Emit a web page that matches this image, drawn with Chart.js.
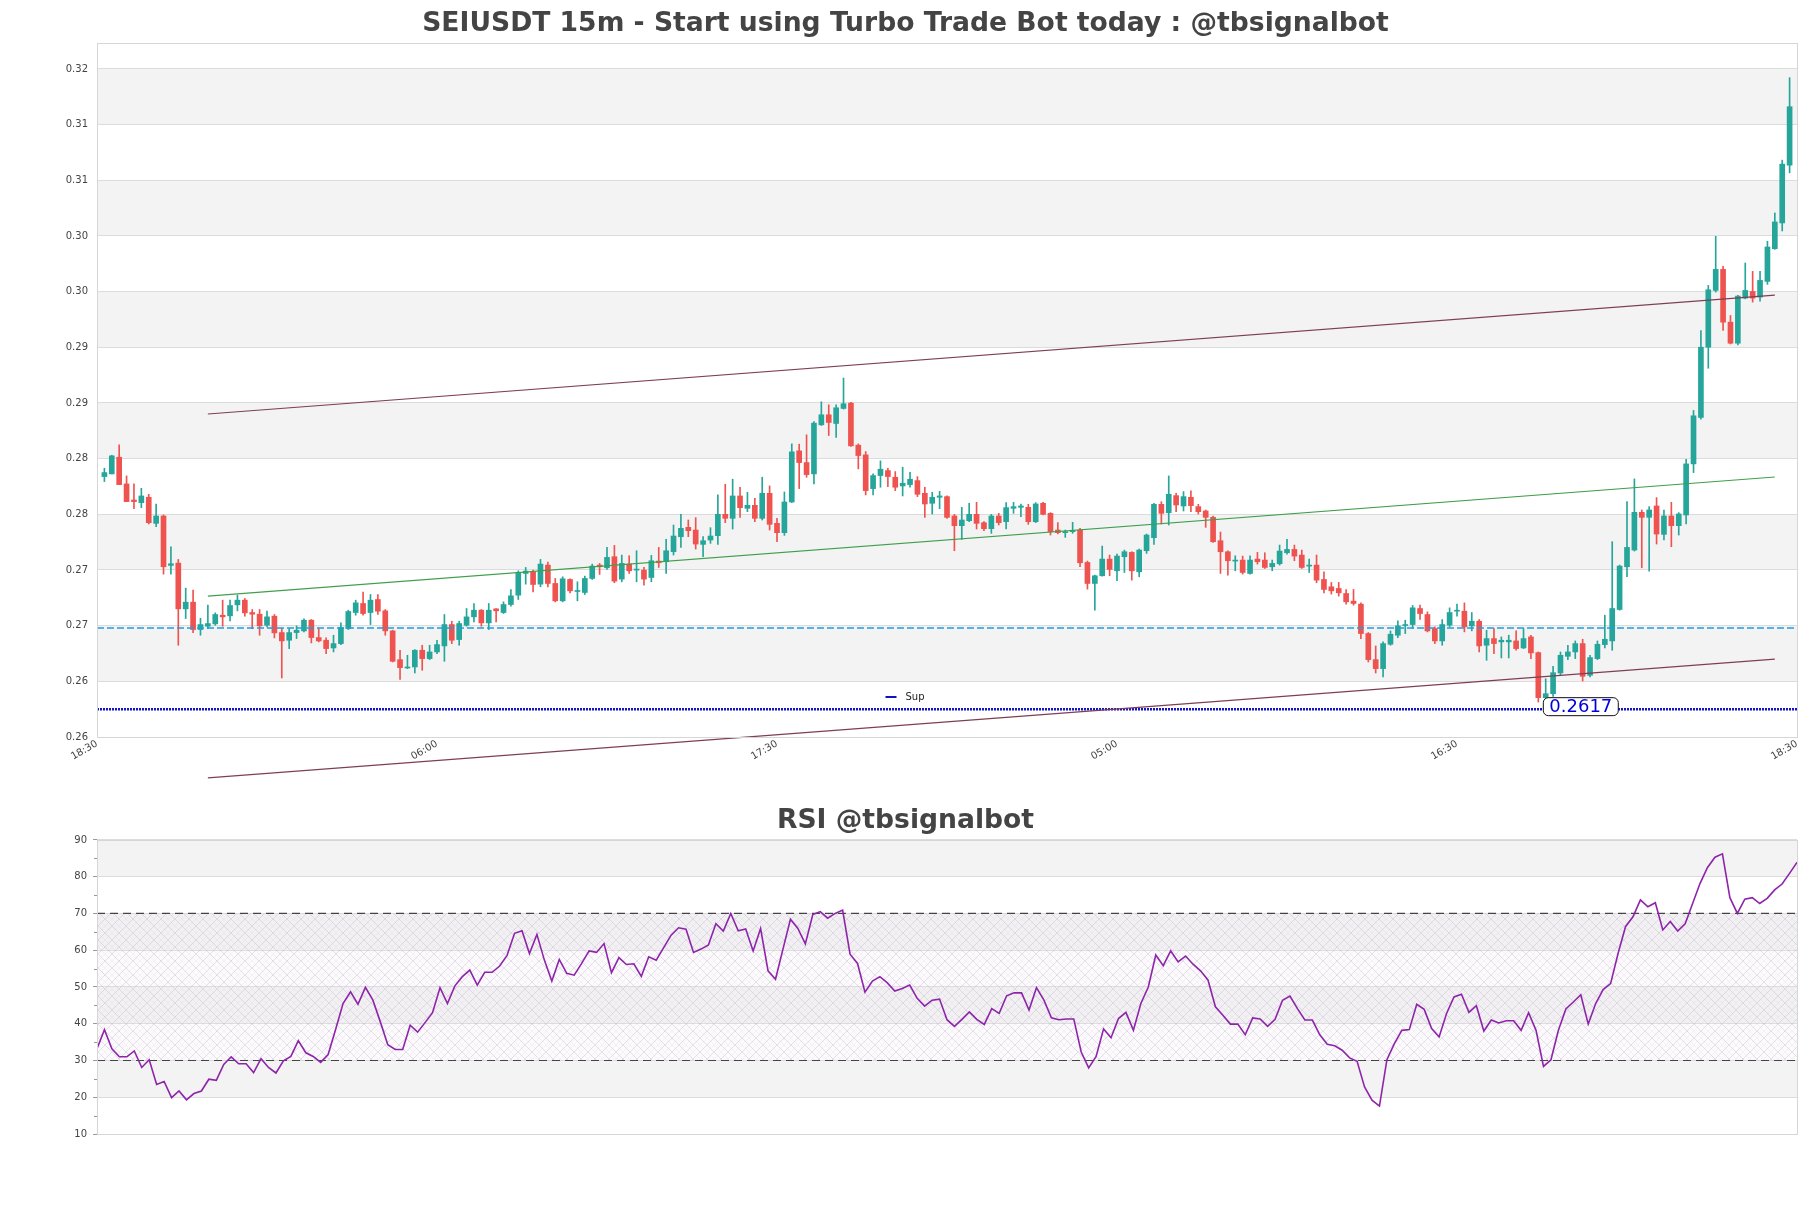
<!DOCTYPE html>
<html><head><meta charset="utf-8">
<script src="https://cdn.jsdelivr.net/npm/chart.js@4.4.1/dist/chart.umd.min.js"></script>
<style>
html,body{margin:0;padding:0;background:#fff;}
#wrap{position:relative;width:1811px;height:1208px;overflow:hidden;}
canvas{position:absolute;left:0;}
</style></head><body>
<div id="wrap">
<canvas id="price" width="1811" height="800" style="top:0;width:1811px;height:800px"></canvas>
<canvas id="rsi" width="1811" height="408" style="top:800px;width:1811px;height:408px"></canvas>
</div>
<script>
// ---------------- DATA ----------------
const priceTitle = 'SEIUSDT 15m - Start using Turbo Trade Bot today : @tbsignalbot';
const rsiTitle = 'RSI @tbsignalbot';

const openP = [0.28259,0.28283,0.28433,0.28193,0.28049,0.28025,0.28073,0.27839,0.27905,0.27461,0.27482,0.27071,0.27131,0.26885,0.26915,0.26936,0.27014,0.27008,0.27107,0.27149,0.27038,0.27023,0.26924,0.27005,0.26858,0.26789,0.26858,0.26873,0.26969,0.26813,0.26789,0.26720,0.26759,0.26894,0.27038,0.27119,0.27038,0.27155,0.27053,0.26873,0.26615,0.26540,0.26549,0.26699,0.26624,0.26684,0.26738,0.26930,0.26795,0.26924,0.26999,0.27059,0.26945,0.27071,0.27038,0.27110,0.27194,0.27389,0.27404,0.27293,0.27464,0.27299,0.27143,0.27335,0.27227,0.27218,0.27344,0.27464,0.27440,0.27539,0.27338,0.27473,0.27419,0.27419,0.27353,0.27500,0.27494,0.27584,0.27719,0.27803,0.27779,0.27650,0.27689,0.27728,0.27920,0.27884,0.28085,0.27974,0.28001,0.27884,0.28109,0.27839,0.27755,0.28031,0.28490,0.28385,0.28283,0.28724,0.28814,0.28736,0.28871,0.28919,0.28541,0.28454,0.28151,0.28268,0.28313,0.28253,0.28175,0.28187,0.28223,0.28109,0.28019,0.28073,0.28079,0.27905,0.27818,0.27863,0.27920,0.27845,0.27791,0.27905,0.27854,0.27974,0.27983,0.27983,0.27854,0.28019,0.27929,0.27779,0.27755,0.27764,0.27779,0.27488,0.27299,0.27368,0.27518,0.27413,0.27539,0.27578,0.27404,0.27593,0.27710,0.28010,0.27935,0.28088,0.27995,0.28073,0.27989,0.27950,0.27893,0.27683,0.27584,0.27500,0.27509,0.27389,0.27518,0.27509,0.27449,0.27476,0.27575,0.27605,0.27554,0.27455,0.27464,0.27335,0.27269,0.27254,0.27209,0.27140,0.27113,0.26849,0.26615,0.26534,0.26753,0.26834,0.26921,0.26930,0.27074,0.27020,0.26894,0.26783,0.26924,0.27050,0.27050,0.26918,0.26960,0.26744,0.26804,0.26774,0.26774,0.26783,0.26720,0.26819,0.26678,0.26273,0.26309,0.26495,0.26645,0.26684,0.26759,0.26474,0.26624,0.26750,0.26783,0.27065,0.27449,0.27599,0.27938,0.27893,0.27995,0.27740,0.27905,0.27818,0.27914,0.28373,0.28790,0.29421,0.29931,0.30120,0.29646,0.29457,0.29862,0.29922,0.29871,0.30012,0.30306,0.30537,0.31056];
const highP = [0.28334,0.28451,0.28544,0.28265,0.28193,0.28154,0.28100,0.28013,0.27914,0.27629,0.27515,0.27257,0.27239,0.26987,0.27104,0.27035,0.27149,0.27149,0.27194,0.27164,0.27065,0.27065,0.27050,0.27020,0.26894,0.26894,0.26918,0.26981,0.26975,0.26894,0.26810,0.26834,0.26945,0.27059,0.27149,0.27221,0.27200,0.27200,0.27065,0.26879,0.26699,0.26654,0.26705,0.26744,0.26744,0.26789,0.27020,0.26960,0.26960,0.27074,0.27119,0.27065,0.27119,0.27074,0.27134,0.27245,0.27413,0.27443,0.27419,0.27515,0.27491,0.27344,0.27359,0.27341,0.27314,0.27365,0.27473,0.27479,0.27623,0.27641,0.27554,0.27548,0.27593,0.27443,0.27551,0.27623,0.27695,0.27824,0.27920,0.27869,0.27890,0.27719,0.27800,0.28094,0.28190,0.28235,0.28163,0.28118,0.28064,0.28253,0.28175,0.27884,0.28121,0.28553,0.28550,0.28634,0.28754,0.28931,0.28904,0.28904,0.29144,0.28925,0.28553,0.28484,0.28283,0.28400,0.28334,0.28304,0.28343,0.28298,0.28259,0.28163,0.28118,0.28127,0.28085,0.27920,0.27983,0.28019,0.28028,0.27854,0.27920,0.27929,0.28025,0.28028,0.28013,0.28010,0.28025,0.28028,0.27935,0.27845,0.27779,0.27848,0.27794,0.27500,0.27374,0.27635,0.27554,0.27563,0.27599,0.27584,0.27608,0.27743,0.28019,0.28034,0.28265,0.28109,0.28124,0.28130,0.28010,0.27959,0.27905,0.27761,0.27593,0.27548,0.27545,0.27548,0.27578,0.27575,0.27509,0.27644,0.27695,0.27644,0.27599,0.27518,0.27554,0.27404,0.27308,0.27308,0.27245,0.27245,0.27125,0.26858,0.26738,0.26774,0.26873,0.26963,0.26969,0.27101,0.27104,0.27044,0.26909,0.26975,0.27080,0.27113,0.27125,0.27038,0.26975,0.26879,0.26894,0.26819,0.26834,0.26873,0.26894,0.26834,0.26684,0.26444,0.26555,0.26684,0.26744,0.26783,0.26798,0.26654,0.26783,0.27014,0.27674,0.27464,0.28034,0.28238,0.27959,0.27989,0.28070,0.27959,0.28028,0.27935,0.28415,0.28853,0.29571,0.29976,0.30417,0.30147,0.29706,0.29886,0.30177,0.30102,0.30102,0.30372,0.30627,0.31101,0.31842];
const lowP = [0.28214,0.28283,0.28187,0.28034,0.27971,0.27980,0.27833,0.27809,0.27383,0.27383,0.26744,0.26984,0.26858,0.26834,0.26894,0.26924,0.26915,0.26963,0.27053,0.27005,0.26894,0.26834,0.26909,0.26810,0.26450,0.26714,0.26804,0.26864,0.26765,0.26774,0.26669,0.26684,0.26750,0.26885,0.27014,0.27014,0.26930,0.27020,0.26834,0.26594,0.26438,0.26534,0.26495,0.26519,0.26615,0.26669,0.26600,0.26759,0.26744,0.26915,0.26954,0.26915,0.26885,0.26954,0.27029,0.27095,0.27155,0.27293,0.27224,0.27269,0.27269,0.27134,0.27134,0.27215,0.27143,0.27200,0.27335,0.27380,0.27425,0.27305,0.27314,0.27389,0.27314,0.27284,0.27314,0.27443,0.27389,0.27554,0.27623,0.27719,0.27608,0.27539,0.27659,0.27650,0.27845,0.27788,0.27893,0.27944,0.27854,0.27869,0.27779,0.27674,0.27731,0.28025,0.28151,0.28253,0.28193,0.28718,0.28628,0.28610,0.28865,0.28529,0.28328,0.28094,0.28094,0.28163,0.28169,0.28133,0.28085,0.28163,0.28079,0.27893,0.27923,0.27971,0.27884,0.27593,0.27695,0.27854,0.27788,0.27773,0.27749,0.27824,0.27788,0.27929,0.27899,0.27830,0.27845,0.27914,0.27734,0.27743,0.27713,0.27749,0.27449,0.27248,0.27059,0.27365,0.27368,0.27323,0.27398,0.27329,0.27359,0.27569,0.27650,0.27833,0.27824,0.27944,0.27950,0.27944,0.27923,0.27803,0.27668,0.27389,0.27374,0.27413,0.27383,0.27383,0.27473,0.27434,0.27413,0.27464,0.27563,0.27503,0.27434,0.27398,0.27305,0.27215,0.27203,0.27185,0.27113,0.27104,0.26804,0.26594,0.26495,0.26459,0.26744,0.26813,0.26849,0.26894,0.26975,0.26864,0.26759,0.26744,0.26909,0.27005,0.26864,0.26873,0.26684,0.26609,0.26669,0.26630,0.26630,0.26699,0.26714,0.26624,0.26234,0.26264,0.26285,0.26474,0.26615,0.26624,0.26423,0.26459,0.26615,0.26720,0.26699,0.27059,0.27359,0.27590,0.27440,0.27410,0.27653,0.27689,0.27629,0.27734,0.27833,0.28295,0.28775,0.29232,0.29916,0.29571,0.29450,0.29442,0.29855,0.29826,0.29835,0.29985,0.30300,0.30465,0.30987];
const closeP = [0.28295,0.28445,0.28187,0.28034,0.28034,0.28085,0.27845,0.27905,0.27449,0.27476,0.27071,0.27131,0.26885,0.26930,0.26939,0.27020,0.26999,0.27101,0.27149,0.27035,0.27023,0.26918,0.26999,0.26855,0.26783,0.26858,0.26879,0.26969,0.26813,0.26783,0.26714,0.26759,0.26903,0.27047,0.27125,0.27029,0.27149,0.27050,0.26873,0.26600,0.26543,0.26549,0.26699,0.26624,0.26684,0.26750,0.26930,0.26789,0.26939,0.26999,0.27059,0.26945,0.27059,0.27053,0.27110,0.27188,0.27398,0.27410,0.27290,0.27473,0.27299,0.27143,0.27341,0.27233,0.27233,0.27344,0.27455,0.27449,0.27533,0.27320,0.27479,0.27413,0.27425,0.27338,0.27503,0.27485,0.27593,0.27725,0.27794,0.27773,0.27653,0.27683,0.27725,0.27920,0.27884,0.28085,0.27980,0.28001,0.27884,0.28109,0.27830,0.27755,0.28031,0.28481,0.28385,0.28277,0.28739,0.28814,0.28745,0.28877,0.28913,0.28535,0.28448,0.28133,0.28268,0.28325,0.28259,0.28163,0.28199,0.28235,0.28100,0.28013,0.28073,0.28085,0.27893,0.27818,0.27869,0.27920,0.27839,0.27791,0.27905,0.27845,0.27980,0.27989,0.27995,0.27854,0.28013,0.27920,0.27764,0.27755,0.27764,0.27773,0.27485,0.27299,0.27368,0.27518,0.27425,0.27545,0.27584,0.27413,0.27599,0.27734,0.28010,0.27929,0.28100,0.28004,0.28079,0.27998,0.27944,0.27893,0.27674,0.27584,0.27503,0.27509,0.27398,0.27509,0.27494,0.27443,0.27479,0.27590,0.27605,0.27545,0.27443,0.27464,0.27329,0.27245,0.27233,0.27215,0.27134,0.27119,0.26849,0.26615,0.26534,0.26759,0.26843,0.26918,0.26930,0.27080,0.27029,0.26873,0.26783,0.26930,0.27038,0.27059,0.26909,0.26960,0.26738,0.26804,0.26759,0.26789,0.26789,0.26714,0.26804,0.26675,0.26273,0.26309,0.26498,0.26654,0.26684,0.26759,0.26465,0.26633,0.26753,0.26798,0.27074,0.27455,0.27623,0.27938,0.27893,0.27959,0.27743,0.27905,0.27818,0.27923,0.28373,0.28805,0.29421,0.29937,0.30120,0.29646,0.29457,0.29880,0.29931,0.29862,0.30021,0.30321,0.30546,0.31065,0.31581];

const rsiValues = [33.2,38.4,33.2,31.0,31.0,32.6,28.1,30.2,23.5,24.3,19.9,21.7,19.3,21.0,21.7,24.9,24.6,28.9,31.0,29.1,29.1,26.7,30.5,28.1,26.6,29.9,31.1,35.4,32.1,31.1,29.5,31.6,38.4,45.5,48.7,45.3,49.9,46.4,40.5,34.3,33.0,33.0,39.6,37.7,40.3,43.0,49.8,45.5,50.3,52.8,54.6,50.5,54.0,54.0,55.7,58.6,64.6,65.3,59.1,64.3,57.3,51.6,57.5,53.7,53.2,56.4,59.8,59.4,
61.8,53.9,58.0,56.1,56.3,52.9,58.2,57.3,60.7,64.1,66.1,65.7,59.4,60.3,61.4,67.2,65.2,70.0,65.3,65.8,59.8,65.9,54.4,52.1,60.3,68.4,65.9,61.7,69.7,70.5,68.7,70.0,70.9,58.9,56.4,48.6,51.6,52.8,51.1,48.9,49.6,50.5,46.9,44.8,46.4,46.7,41.1,39.3,41.2,43.2,41.2,39.8,44.1,42.8,47.6,48.4,48.4,43.7,49.8,46.4,41.6,41.1,41.3,41.3,32.3,28.0,31.1,38.6,36.2,41.4,43.1,38.2,45.5,50.0,58.7,55.8,59.8,56.8,58.4,56.2,
54.4,51.9,44.6,42.3,39.9,39.9,37.0,41.6,41.3,39.3,41.2,46.4,47.5,44.1,41.0,41.0,37.0,34.4,34.0,32.8,30.7,29.8,22.8,19.2,17.6,30.2,34.6,38.2,38.4,45.3,43.9,38.7,36.4,42.8,47.3,48.0,43.1,44.9,38.0,41.0,40.2,40.8,40.8,38.2,43.0,38.2,28.4,30.2,38.2,44.0,45.9,47.9,39.9,45.5,49.3,50.9,59.1,66.4,69.1,73.7,71.8,72.9,65.5,67.8,65.2,67.2,72.7,78.2,82.5,85.3,86.2,74.3,70.0,73.9,74.3,72.7,74.1,76.4,78.0,80.9,83.9];

const xTickPositions = [-1, 45, 91, 137, 183, 229];
const xTickLabels = ['18:30', '06:00', '17:30', '05:00', '16:30', '18:30'];
const priceTickValues = [0.2592,0.2642,0.2692,0.2742,0.2792,0.2842,0.2892,0.2942,0.2992,0.3042,0.3092,0.3142,0.3192];
const priceTickLabels = ['0.26','0.26','0.27','0.27','0.28','0.28','0.29','0.29','0.30','0.30','0.31','0.31','0.32'];
const priceMin = 0.2592, priceMax = 0.32154;

const upperTrend = [{x:14, y:0.28821}, {x:226, y:0.29889}];
const midTrend   = [{x:14, y:0.27186}, {x:226, y:0.28255}];
const lowerTrend = [{x:14, y:0.25552}, {x:226, y:0.26620}];
const dashLevel = 0.26899;
const supportLevel = 0.2617;
const supportLabel = '0.2617';
const supportIndex = 194;
const legendLabel = 'Sup';
const rsiHigh = 70, rsiLow = 30;

// ---------------- STYLE ----------------
const GREEN = '#26a69a', RED = '#ef5350';
const BAND = '#f3f3f3', GRID = '#dcdcdc', BORDER = '#d6d6d6';
const FONT = 'DejaVu Sans';
const TITLE_SIZE = 26.6;

const idx = openP.map((_, i) => i);
const candleColors = idx.map(i => closeP[i] >= openP[i] ? GREEN : RED);

function bandsPlugin(id, tickValsFn, maxVal) {
  return {
    id,
    beforeDraw(chart) {
      const {ctx, chartArea: a} = chart;
      const ys = chart.scales.y;
      ctx.save();
      ctx.fillStyle = '#fff';
      ctx.fillRect(0, 0, chart.width, chart.height);
      const tv = tickValsFn();
      for (let k = 0; k < tv.length; k++) {
        if (k % 2 === 1) {
          const lo = tv[k], hi = (k + 1 < tv.length) ? tv[k + 1] : maxVal;
          const y1 = ys.getPixelForValue(hi), y2 = ys.getPixelForValue(lo);
          ctx.fillStyle = BAND;
          ctx.fillRect(a.left, y1, a.right - a.left, y2 - y1);
        }
      }
      ctx.restore();
    }
  };
}
const borderPlugin = {
  id: 'frame',
  afterDraw(chart) {
    const {ctx, chartArea: a} = chart;
    ctx.save();
    ctx.strokeStyle = BORDER; ctx.lineWidth = 1;
    ctx.strokeRect(Math.round(a.left) + 0.5, Math.round(a.top) + 0.5, Math.round(a.right - a.left), Math.round(a.bottom - a.top));
    ctx.restore();
  }
};
const supportPlugin = {
  id: 'supportLabel',
  afterDraw(chart) {
    const {ctx, chartArea: a} = chart;
    const xs = chart.scales.x, ys = chart.scales.y;
    ctx.save();
    ctx.font = '18px "' + FONT + '"';
    const tw = ctx.measureText(supportLabel).width;
    const bx = xs.getPixelForValue(supportIndex) + 5;
    const by = ys.getPixelForValue(supportLevel) - 2.5;
    const bw = tw + 12, bh = 18;
    ctx.beginPath();
    ctx.roundRect(bx, by - bh / 2, bw, bh, 5);
    ctx.fillStyle = '#fff'; ctx.fill();
    ctx.strokeStyle = '#111'; ctx.lineWidth = 1; ctx.stroke();
    ctx.fillStyle = '#0000dd';
    ctx.textBaseline = 'middle'; ctx.textAlign = 'left';
    ctx.fillText(supportLabel, bx + 6, by + 1);
    const cx = chart.width / 2;
    const ly = a.bottom - 40;
    ctx.strokeStyle = '#1010c0'; ctx.lineWidth = 2;
    ctx.beginPath(); ctx.moveTo(cx - 20, ly); ctx.lineTo(cx - 9, ly); ctx.stroke();
    ctx.font = '10px "' + FONT + '"';
    ctx.fillStyle = '#222';
    ctx.fillText(legendLabel, cx, ly);
    ctx.restore();
  }
};

// ---------------- PRICE CHART ----------------
new Chart(document.getElementById('price'), {
  type: 'bar',
  data: {
    datasets: [
      { type: 'line', data: upperTrend, borderColor: '#7e3f52', borderWidth: 1.2, pointRadius: 0, order: 0, clip: false },
      { type: 'line', data: midTrend, borderColor: '#3f9f4c', borderWidth: 1.2, pointRadius: 0, order: 0, clip: false },
      { type: 'line', data: lowerTrend, borderColor: '#7e3f52', borderWidth: 1.2, pointRadius: 0, order: 0, clip: false },
      { type: 'line', data: [{x:-1, y:dashLevel}, {x:229, y:dashLevel}], borderColor: '#1f9fe0', borderWidth: 1.3, borderDash: [7, 3], pointRadius: 0, order: 0 },
      { type: 'line', data: [{x:-1, y:supportLevel}, {x:229, y:supportLevel}], borderColor: '#1212c8', borderWidth: 2.5, borderDash: [2, 1], pointRadius: 0, order: 0 },
      { type: 'bar', data: idx.map(i => ({x: i, y: [openP[i], closeP[i]]})), backgroundColor: candleColors, borderWidth: 0, barThickness: 5, grouped: false, minBarLength: 1, order: 1 },
      { type: 'bar', data: idx.map(i => ({x: i, y: [lowP[i], highP[i]]})), backgroundColor: candleColors, borderWidth: 0, barThickness: 1, grouped: false, order: 2 }
    ]
  },
  options: {
    responsive: false, animation: false, devicePixelRatio: 1,
    layout: { padding: { left: 14, right: 14, top: 0, bottom: 0 } },
    plugins: {
      legend: { display: false }, tooltip: { enabled: false },
      title: { display: true, text: priceTitle, color: '#444', font: { family: FONT, size: TITLE_SIZE, weight: 'bold' }, padding: { top: 8, bottom: 3 } }
    },
    scales: {
      x: {
        type: 'linear', min: -1, max: 229, offset: false,
        grid: { display: false, drawTicks: false }, border: { display: false },
        afterBuildTicks: s => { s.ticks = xTickPositions.map(v => ({ value: v })); },
        afterFit: s => { s.height = 63; },
        ticks: { autoSkip: false, maxRotation: 30, minRotation: 30, padding: 1, color: '#444', font: { family: FONT, size: 10 }, callback: (v, i) => xTickLabels[i] }
      },
      y: {
        type: 'linear', min: priceMin, max: priceMax,
        grid: { color: GRID, drawTicks: false }, border: { display: false },
        afterBuildTicks: s => { s.ticks = priceTickValues.map(v => ({ value: v })); },
        afterFit: s => { s.width = 83; },
        ticks: { padding: 9, color: '#444', font: { family: FONT, size: 10 }, callback: (v, i) => priceTickLabels[i] }
      }
    }
  },
  plugins: [bandsPlugin('pbands', () => priceTickValues, priceMax), borderPlugin, supportPlugin]
});

// ---------------- RSI CHART ----------------
const rsiTicks = [10, 20, 30, 40, 50, 60, 70, 80, 90];
const hatchPlugin = {
  id: 'hatch',
  beforeDatasetsDraw(chart) {
    const {ctx, chartArea: a} = chart;
    const ys = chart.scales.y;
    const S = 14;
    const pc = document.createElement('canvas');
    pc.width = S; pc.height = S;
    const p = pc.getContext('2d');
    p.strokeStyle = 'rgba(170,165,185,0.45)'; p.lineWidth = 0.7;
    p.beginPath(); p.moveTo(0, 0); p.lineTo(S, S); p.moveTo(S, 0); p.lineTo(0, S); p.stroke();
    p.strokeStyle = 'rgba(190,175,200,0.22)'; p.lineWidth = 0.6;
    p.beginPath();
    p.moveTo(S / 2, 0); p.lineTo(S, S / 2); p.lineTo(S / 2, S); p.lineTo(0, S / 2); p.closePath();
    p.stroke();
    const y1 = ys.getPixelForValue(rsiHigh), y2 = ys.getPixelForValue(rsiLow);
    ctx.save();
    ctx.fillStyle = 'rgba(238,230,242,0.18)';
    ctx.fillRect(a.left, y1, a.right - a.left, y2 - y1);
    ctx.fillStyle = ctx.createPattern(pc, 'repeat');
    ctx.fillRect(a.left, y1, a.right - a.left, y2 - y1);
    ctx.restore();
  },
  afterDraw(chart) {
    const {ctx, chartArea: a} = chart;
    const ys = chart.scales.y;
    ctx.save();
    ctx.strokeStyle = '#999'; ctx.lineWidth = 1;
    for (let v = 15; v < 90; v += 10) {
      const y = Math.round(ys.getPixelForValue(v)) + 0.5;
      ctx.beginPath(); ctx.moveTo(a.left - 3, y); ctx.lineTo(a.left, y); ctx.stroke();
    }
    ctx.restore();
  }
};

new Chart(document.getElementById('rsi'), {
  type: 'line',
  data: {
    datasets: [
      { data: rsiValues.map((v, i) => ({ x: i, y: v })), borderColor: '#8e24aa', borderWidth: 1.6, pointRadius: 0, tension: 0, order: 0 },
      { data: [{x:0, y:rsiHigh}, {x:rsiValues.length - 1, y:rsiHigh}], borderColor: '#444', borderWidth: 1.2, borderDash: [8, 5], pointRadius: 0, order: 1 },
      { data: [{x:0, y:rsiLow}, {x:rsiValues.length - 1, y:rsiLow}], borderColor: '#444', borderWidth: 1.2, borderDash: [8, 5], pointRadius: 0, order: 1 }
    ]
  },
  options: {
    responsive: false, animation: false, devicePixelRatio: 1,
    layout: { padding: { left: 14, right: 14, top: 0, bottom: 74 } },
    plugins: {
      legend: { display: false }, tooltip: { enabled: false },
      title: { display: true, text: rsiTitle, color: '#444', font: { family: FONT, size: TITLE_SIZE, weight: 'bold' }, padding: { top: 5, bottom: 3 } }
    },
    scales: {
      x: { type: 'linear', min: 0, max: rsiValues.length - 1, display: false },
      y: {
        type: 'linear', min: 10, max: 90,
        grid: { color: GRID, drawTicks: true, tickLength: 4, tickColor: '#999' }, border: { display: false },
        afterBuildTicks: s => { s.ticks = rsiTicks.map(v => ({ value: v })); },
        afterFit: s => { s.width = 83; },
        ticks: { padding: 6, color: '#444', font: { family: FONT, size: 10 } }
      }
    }
  },
  plugins: [bandsPlugin('rbands', () => rsiTicks, 90), hatchPlugin, borderPlugin]
});
</script>
</body></html>
